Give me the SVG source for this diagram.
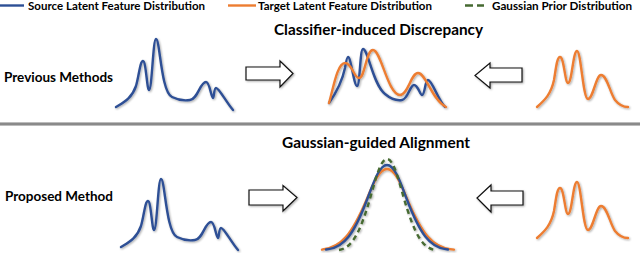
<svg xmlns="http://www.w3.org/2000/svg" width="640" height="253" viewBox="0 0 640 253">
<style>
.t{font-family:Lato,"Liberation Sans",Arial,sans-serif;font-weight:bold;fill:#000}
.lg{font-size:11px}
.ti{font-size:15px}
.lb{font-size:13px}
.blue{fill:none;stroke:#2d4f95;stroke-width:2.4;stroke-linejoin:round;stroke-linecap:round}
.orange{fill:none;stroke:#ed7d31;stroke-width:2.4;stroke-linejoin:round;stroke-linecap:round}
.green{fill:none;stroke:#466a32;stroke-width:2.4;stroke-dasharray:5 4}
.arrow{fill:#fff;stroke:#111;stroke-width:1.2;stroke-linejoin:miter}
</style>
<defs>
<filter id="sh" x="-10%" y="-10%" width="130%" height="130%">
<feGaussianBlur in="SourceAlpha" stdDeviation="0.8"/>
<feOffset dx="1" dy="1" result="b"/>
<feComponentTransfer><feFuncA type="linear" slope="0.35"/></feComponentTransfer>
<feMerge><feMergeNode/><feMergeNode in="SourceGraphic"/></feMerge>
</filter>
<path id="srcCurve" d="M 116,107 C 124,102 132,98 136,86 C 139,76 140,61 143,61 C 146,61 147,90 149,90 C 152,90 153,39 156,39 C 160,39 161,92 172,97 C 178,100 184,101 190,100 C 198,99 200,82 206,82 C 210,82 211,98 213,98 C 214,98 214,88 216,88 C 219,88 226,102 233,110"/>
<path id="tgtCurve" d="M 537,107 C 545,100 551,94 554,80 C 556,68 557,57 560,57 C 564,57 565,83 568,83 C 572,83 573,51 577,51 C 581,51 583,99 588,99 C 593,99 596,75 601,75 C 607,75 610,93 615,100 C 619,105 623,107 628,107"/>
</defs>
<rect width="640" height="253" fill="#fff"/>

<g id="legend">
<line x1="0" y1="5.5" x2="24" y2="5.5" stroke="#2d4f95" stroke-width="2.4"/>
<text class="t lg" x="28" y="10" textLength="177" lengthAdjust="spacingAndGlyphs">Source Latent Feature Distribution</text>
<line x1="228" y1="5.5" x2="256" y2="5.5" stroke="#ed7d31" stroke-width="2.4"/>
<text class="t lg" x="258" y="10" textLength="174" lengthAdjust="spacingAndGlyphs">Target Latent Feature Distribution</text>
<line x1="465" y1="5.5" x2="484" y2="5.5" stroke="#466a32" stroke-width="2.4" stroke-dasharray="8 4"/>
<text class="t lg" x="492" y="10" textLength="140" lengthAdjust="spacingAndGlyphs">Gaussian Prior Distribution</text>
</g>

<g id="title-top"><text class="t ti" x="274" y="35" textLength="209" lengthAdjust="spacingAndGlyphs">Classifier-induced Discrepancy</text></g>
<g id="label-previous"><text class="t lb" x="4" y="82" textLength="109" lengthAdjust="spacingAndGlyphs">Previous Methods</text></g>

<g id="separator">
<rect x="0" y="122" width="640" height="4" fill="#c8c8c8"/>
<rect x="0" y="122.8" width="640" height="2.4" fill="#8a8a8a"/>
</g>

<g id="title-bottom"><text class="t ti" x="282" y="148" textLength="188" lengthAdjust="spacingAndGlyphs">Gaussian-guided Alignment</text></g>
<g id="label-proposed"><text class="t lb" x="5" y="201" textLength="108" lengthAdjust="spacingAndGlyphs">Proposed Method</text></g>

<g id="source-top" filter="url(#sh)"><use href="#srcCurve" class="blue"/></g>
<g id="target-top" filter="url(#sh)"><use href="#tgtCurve" class="orange"/></g>
<g id="mixed-top" filter="url(#sh)">
<path class="blue" d="M 329,103 C 336,93 342,82 345,68 C 346,62 347,57 348,57 C 351,57 354,86 357,86 C 360,86 360,49 363,49 C 368,49 373,85 385,94 C 391,99 396,101 402,100 C 408,99 410,85 414,85 C 418,85 420,95 422,95 C 425,95 425,80 428,80 C 432,80 438,100 445,107"/>
<path class="orange" d="M 329,103 C 333,90 337,63 345,63 C 352,63 354,78 359,78 C 365,78 366,50 373,50 C 381,50 388,95 400,95 C 408,95 411,73 418,73 C 426,73 432,100 446,107"/>
</g>

<g id="source-bottom" filter="url(#sh)"><use href="#srcCurve" class="blue" transform="translate(5,140)"/></g>
<g id="target-bottom" filter="url(#sh)"><use href="#tgtCurve" class="orange" transform="translate(0,131)"/></g>
<g id="aligned-bottom" filter="url(#sh)">
<path class="orange" d="M 322,249.6 L 324,249.1 C 340.8,247 351.3,235.3 366,200.9 C 372.3,186.2 378.6,169 387,169 C 395.4,169 401.7,186.2 408,200.9 C 422.7,235.3 433.2,247 450,249.1 L 454,249.6"/>
<path class="blue" d="M 326,249.5 L 328.5,249.1 C 344.1,246.9 353.9,234.5 367.5,198.5 C 373.4,183 379.2,165 387,165 C 394.8,165 400.7,183 406.5,198.5 C 420.2,234.5 429.9,246.9 445.5,249.1 L 448,249.5"/>
<path class="green" d="M 339,250 C 351.8,247.6 359.8,234.3 371,195.2 C 375.8,178.5 380.6,159 387,159 C 393.4,159 398.2,178.5 403,195.2 C 414.2,234.3 422.2,247.6 435,250"/>
</g>

<g id="connectors" filter="url(#sh)">
<path class="arrow" d="M 246,67 L 280,67 L 280,61 L 293,73.5 L 280,87 L 280,80 L 246,80 Z"/>
<path class="arrow" d="M 522,68 L 490,68 L 490,63 L 475,75.5 L 490,88 L 490,82 L 522,82 Z"/>
<path class="arrow" d="M 249,190 L 283,190 L 283,185.5 L 297,197.5 L 283,211 L 283,205 L 249,205 Z"/>
<path class="arrow" d="M 523,191 L 491,191 L 491,185 L 477,198 L 491,212 L 491,205 L 523,205 Z"/>
</g>
</svg>
